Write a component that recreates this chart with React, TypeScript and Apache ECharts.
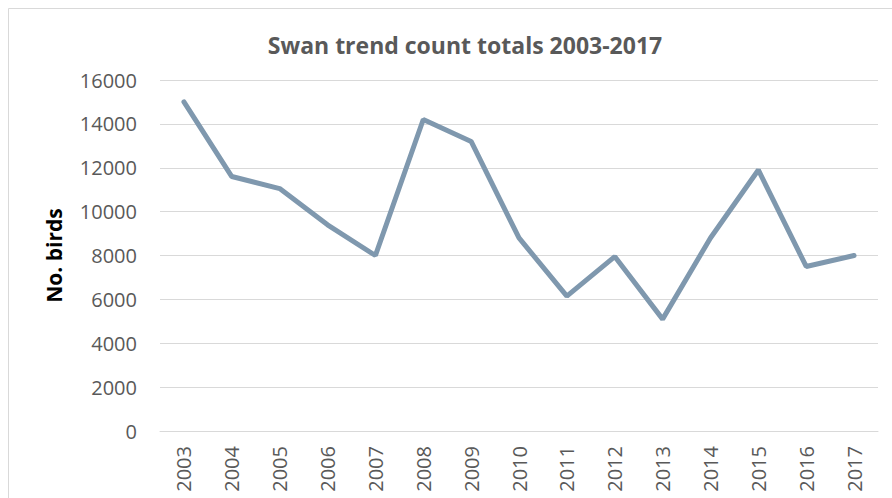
import React, { useEffect, useRef } from "react";
import * as echarts from "echarts";

const years = ["2003","2004","2005","2006","2007","2008","2009","2010","2011","2012","2013","2014","2015","2016","2017"];
const swanCounts = [15000, 11600, 11050, 9400, 8000, 14200, 13200, 8800, 6150, 7950, 5100, 8800, 11900, 7500, 8000];
const titleText = "Swan trend count totals 2003-2017";
const yAxisName = "No. birds";

export default function App() {
  const ref = useRef<HTMLDivElement>(null);
  useEffect(() => {
    if (!ref.current) return;
    const chart = echarts.init(ref.current, null, { renderer: "svg" });
    chart.setOption({
      animation: false,
      backgroundColor: "#ffffff",
      title: {
        text: titleText,
        left: 460,
        top: 28,
        textAlign: "center",
        textStyle: { fontFamily: "Open Sans", fontWeight: "bold", fontSize: 23, color: "#595959" },
      },
      graphic: [
        {
          type: "rect",
          shape: { x: 8.5, y: 8.5, width: 920, height: 520 },
          style: { fill: "none", stroke: "#d9d9d9", lineWidth: 1 },
          silent: true,
        },
      ],
      grid: { left: 160, right: 14, top: 80, bottom: 67 },
      xAxis: {
        type: "category",
        data: years,
        boundaryGap: true,
        axisLine: { show: true, lineStyle: { color: "#d9d9d9", width: 1 } },
        axisTick: { show: false },
        axisLabel: {
          rotate: 90,
          margin: 15,
          fontFamily: "Open Sans",
          fontSize: 20,
          color: "#595959",
          interval: 0,
        },
      },
      yAxis: {
        type: "value",
        min: 0,
        max: 16000,
        interval: 2000,
        name: yAxisName,
        nameLocation: "middle",
        nameGap: 96,
        nameTextStyle: { fontFamily: "Open Sans", fontWeight: "bold", fontSize: 21, color: "#000000" },
        axisLine: { show: false },
        axisTick: { show: false },
        splitLine: { lineStyle: { color: "#d9d9d9", width: 1 } },
        axisLabel: {
          margin: 23,
          fontFamily: "Open Sans",
          fontSize: 20,
          color: "#595959",
          formatter: (v: number) => String(v),
        },
      },
      series: [
        {
          type: "line",
          data: swanCounts,
          symbol: "none",
          lineStyle: { color: "#7f98ae", width: 5, cap: "round" },
        },
      ],
    });
    return () => chart.dispose();
  }, []);
  return <div ref={ref} style={{ position: "fixed", left: 0, top: 0, width: 892, height: 498 }} />;
}
